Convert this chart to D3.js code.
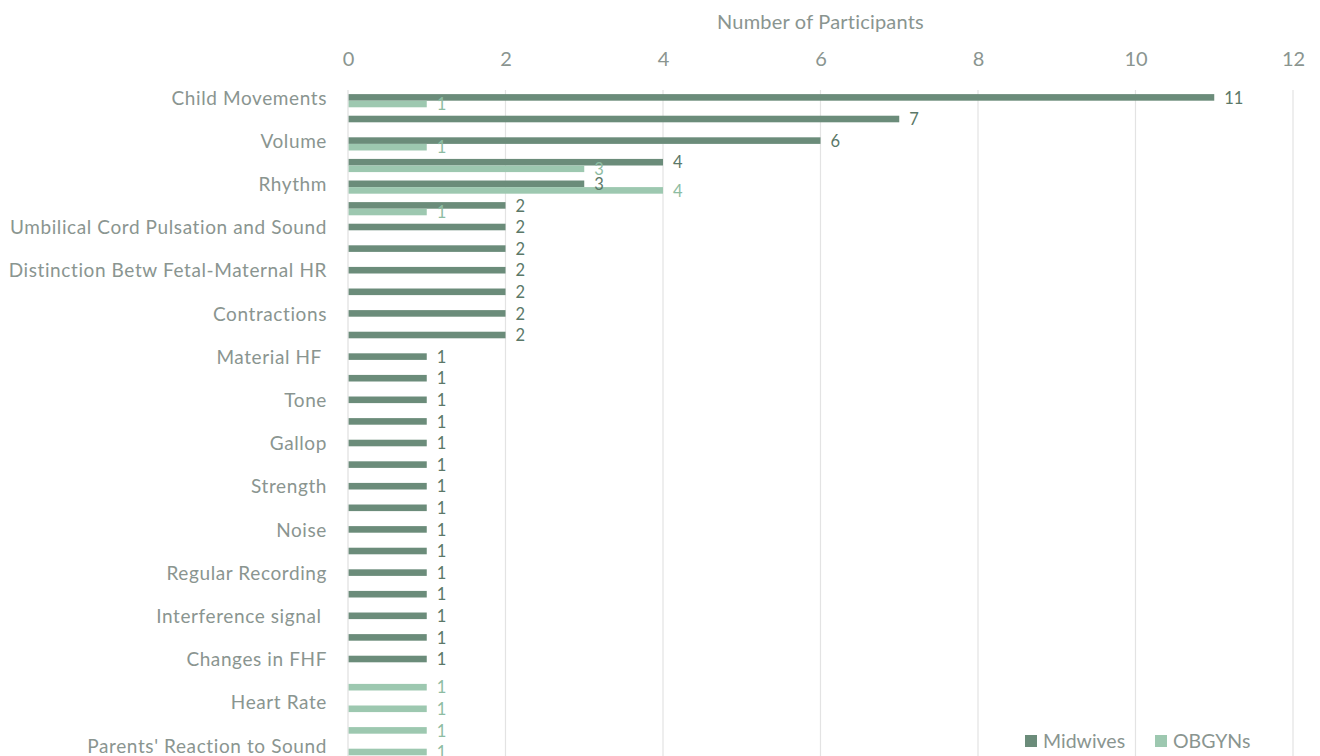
<!DOCTYPE html>
<html>
<head>
<meta charset="utf-8">
<script src="https://cdn.jsdelivr.net/npm/d3@7"></script>
<style>
  html, body { margin: 0; padding: 0; background: #fff; }
  svg { display: block; font-family: Lato, 'Open Sans', sans-serif; }
</style>
</head>
<body>
<div id="chart"></div>
<script>
// categories in display order, top to bottom (every other label is hidden like the source chart)
const categories = [
  'Child Movements', '', 'Volume', '', 'Rhythm', '',
  'Umbilical Cord Pulsation and Sound', '', 'Distinction Betw Fetal-Maternal HR', '',
  'Contractions', '', 'Material HF ', '', 'Tone', '', 'Gallop', '', 'Strength', '',
  'Noise', '', 'Regular Recording', '', 'Interference signal ', '', 'Changes in FHF', '',
  'Heart Rate', '', "Parents' Reaction to Sound"
]
const midwives = [11, 7, 6, 4, 3, 2, 2, 2, 2, 2, 2, 2, 1, 1, 1, 1, 1, 1, 1, 1, 1, 1, 1, 1, 1, 1, 1, 0, 0, 0, 0]
const obgyns = [1, 0, 1, 3, 4, 1, 0, 0, 0, 0, 0, 0, 0, 0, 0, 0, 0, 0, 0, 0, 0, 0, 0, 0, 0, 0, 0, 1, 1, 1, 1]
const seriesNames = ['Midwives', 'OBGYNs']
const xTicks = [0, 2, 4, 6, 8, 10, 12]
const axisTitle = 'Number of Participants'

const W = 1320
const H = 756
const colors = { Midwives: '#6b8c7a', OBGYNs: '#9dc8b0' }
const labelColors = { Midwives: '#5b7868', OBGYNs: '#8dbca2' }
const textColor = '#8a9590'

const svg = d3.select('#chart').append('svg')
  .attr('width', W)
  .attr('height', H)

const plotTop = 89.9
const step = 21.6
const x = d3.scaleLinear().domain([0, 12]).range([348, 1293])
const y = d3.scaleBand()
  .domain(d3.range(categories.length))
  .range([plotTop, plotTop + step * categories.length])
  .paddingInner(0.39)
  .paddingOuter(0.195)
const ySub = d3.scaleBand().domain(seriesNames).range([0, y.bandwidth()])

// gridlines
svg.append('g')
  .selectAll('line')
  .data(xTicks.slice(1))
  .join('line')
  .attr('x1', d => x(d))
  .attr('x2', d => x(d))
  .attr('y1', plotTop)
  .attr('y2', H)
  .attr('stroke', '#e3e3e3')
  .attr('stroke-width', 1.2)

// category axis line
svg.append('line')
  .attr('x1', x(0))
  .attr('x2', x(0))
  .attr('y1', plotTop)
  .attr('y2', H)
  .attr('stroke', '#e0e0e0')
  .attr('stroke-width', 1.2)

// top value axis
const xAxis = svg.append('g')
  .attr('transform', 'translate(0,' + 66 + ')')
  .call(d3.axisTop(x).tickValues(xTicks).tickSize(0).tickPadding(0))
xAxis.select('.domain').remove()
xAxis.selectAll('text')
  .attr('fill', textColor)
  .style('font-size', '20px')
  .style('font-family', 'Lato, sans-serif')

svg.append('text')
  .attr('x', (x(0) + x(12)) / 2)
  .attr('y', 29)
  .attr('text-anchor', 'middle')
  .attr('fill', textColor)
  .style('font-size', '20px')
  .style('letter-spacing', '0.2px')
  .text(axisTitle)

// category axis
const yAxis = svg.append('g')
  .attr('transform', 'translate(' + 327 + ',0)')
  .call(d3.axisLeft(y).tickSize(0).tickPadding(0).tickFormat(i => categories[i]))
yAxis.select('.domain').remove()
yAxis.selectAll('text')
  .attr('fill', textColor)
  .attr('dy', '0.2em')
  .style('font-size', '19px')
  .style('letter-spacing', '0.6px')
  .style('font-family', 'Lato, sans-serif')
  .style('white-space', 'pre')

// bars
const rows = categories.map((c, i) => ({ i, Midwives: midwives[i], OBGYNs: obgyns[i] }))
const groups = svg.append('g')
  .selectAll('g')
  .data(rows)
  .join('g')
  .attr('transform', d => 'translate(0,' + y(d.i) + ')')

groups.selectAll('rect')
  .data(d => seriesNames.map(s => ({ s, v: d[s] })).filter(e => e.v > 0))
  .join('rect')
  .attr('x', x(0) + 0.6)
  .attr('y', e => ySub(e.s))
  .attr('width', e => x(e.v) - x(0) - 0.6)
  .attr('height', ySub.bandwidth())
  .attr('fill', e => colors[e.s])

groups.selectAll('text')
  .data(d => seriesNames.map(s => ({ s, v: d[s] })).filter(e => e.v > 0))
  .join('text')
  .attr('x', e => x(e.v) + 10)
  .attr('y', e => ySub(e.s) + ySub.bandwidth() / 2)
  .attr('dy', '0.38em')
  .attr('fill', e => labelColors[e.s])
  .style('font-size', '16.5px')
  .text(e => e.v)

// legend
const legend = svg.append('g').attr('transform', 'translate(1025,741)')
const legendX = [0, 130]
seriesNames.forEach((s, k) => {
  const lg = legend.append('g').attr('transform', 'translate(' + legendX[k] + ',0)')
  lg.append('rect')
    .attr('x', 0)
    .attr('y', -6)
    .attr('width', 12)
    .attr('height', 12)
    .attr('fill', colors[s])
  lg.append('text')
    .attr('x', 18)
    .attr('y', 0)
    .attr('dy', '0.36em')
    .attr('fill', textColor)
    .style('font-size', '19.5px')
    .text(s)
})
</script>
</body>
</html>
